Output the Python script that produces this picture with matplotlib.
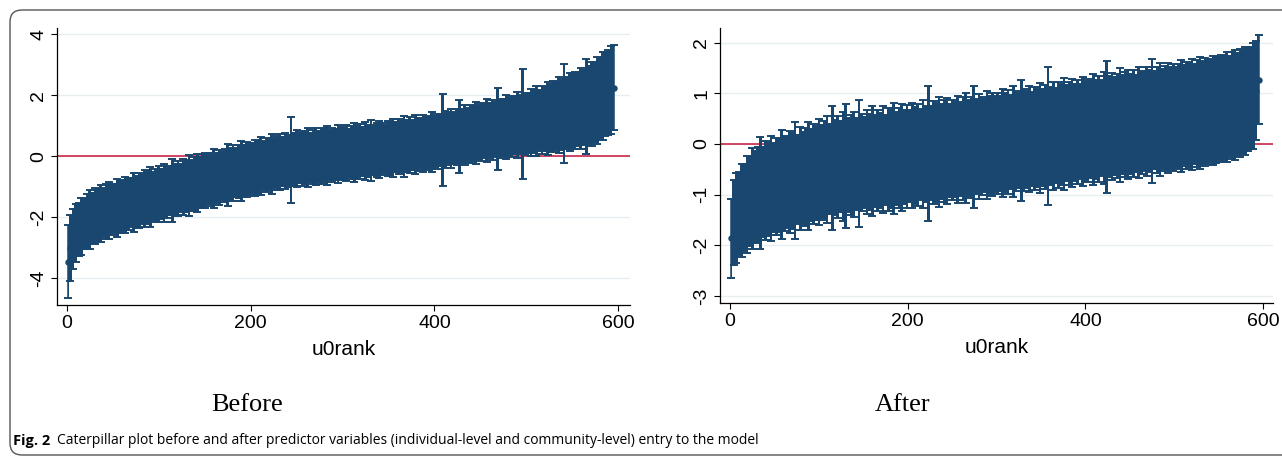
"""
Caterpillar plots of community-level residuals (u0) ranked by size,
before and after adding the predictor variables to the model.
"""

import matplotlib
matplotlib.use('Agg')
import matplotlib.pyplot as plt
from matplotlib.patches import FancyBboxPatch
from matplotlib.transforms import IdentityTransform

# =============================================================================
# DATA  (u0 estimate and half-width of its interval, every third u0rank)
# =============================================================================

RANKS = list(range(1, 596, 3))

BEFORE_U0 = [
    -3.45, -3.00, -2.72, -2.52, -2.40, -2.30, -2.21, -2.14, -2.07, -2.01, -1.96,
    -1.92, -1.88, -1.84, -1.81, -1.77, -1.74, -1.71, -1.68, -1.66, -1.63,
    -1.60, -1.57, -1.54, -1.51, -1.48, -1.45, -1.42, -1.39, -1.36, -1.33, -1.30, -1.28, -1.25,
    -1.22, -1.20, -1.17, -1.14, -1.12, -1.09, -1.06, -1.04, -1.01, -0.98, -0.96, -0.93,
    -0.90, -0.88, -0.85, -0.82,
    -0.80, -0.77, -0.75, -0.72, -0.70, -0.68, -0.65, -0.63, -0.60, -0.58, -0.55, -0.53,
    -0.50, -0.48, -0.46, -0.43, -0.41,
    -0.39, -0.37, -0.35, -0.33, -0.31, -0.29, -0.27, -0.25, -0.23, -0.21, -0.19, -0.17,
    -0.15, -0.14, -0.12, -0.10, -0.08,
    -0.07, -0.06, -0.05, -0.04, -0.03, -0.02, -0.01, 0.00, 0.01, 0.02, 0.03, 0.04,
    0.05, 0.06, 0.07, 0.08,
    0.09, 0.10, 0.11, 0.12, 0.13, 0.14, 0.15, 0.16, 0.17, 0.18, 0.19, 0.20,
    0.21, 0.22, 0.23, 0.24, 0.26,
    0.27, 0.28, 0.29, 0.31, 0.32, 0.33, 0.34, 0.36, 0.37, 0.38, 0.39, 0.41,
    0.42, 0.43, 0.44, 0.46, 0.47,
    0.49, 0.51, 0.53, 0.55, 0.57, 0.59, 0.61, 0.63, 0.65, 0.67, 0.69, 0.71,
    0.73, 0.75, 0.77, 0.79,
    0.80, 0.82, 0.84, 0.85, 0.87, 0.89, 0.90, 0.92, 0.94, 0.95, 0.97, 0.99,
    1.00, 1.02, 1.04, 1.06, 1.07,
    1.09, 1.11, 1.13, 1.16, 1.18, 1.20, 1.22, 1.25, 1.27, 1.30, 1.32, 1.35,
    1.37, 1.40, 1.42, 1.45, 1.48,
    1.51, 1.54, 1.57, 1.60, 1.64, 1.68, 1.72, 1.77, 1.83, 1.90, 1.97, 2.04,
    2.10, 2.17, 2.25,
]

BEFORE_HW = [
    1.20, 1.08, 0.98, 0.95, 0.86, 0.92, 0.83, 0.90, 0.96, 0.82, 0.91, 0.86,
    0.94, 0.81, 0.89, 0.93, 0.84, 0.80, 0.95, 0.87, 0.83,
    0.92, 0.86, 0.79, 0.97, 0.84, 0.90, 0.81, 0.94, 0.87, 0.99, 0.80, 0.88, 0.92,
    0.82, 0.95, 0.86, 0.79, 1.02, 0.84, 0.90, 0.80, 0.93, 0.86, 1.00, 0.81,
    0.89, 0.94, 0.83, 0.88,
    0.91, 0.80, 0.87, 0.96, 0.82, 0.90, 0.79, 0.86, 1.02, 0.84, 0.93, 0.81,
    0.88, 0.97, 0.83, 0.90, 0.85,
    0.80, 0.92, 0.86, 0.95, 0.81, 0.89, 0.84, 0.99, 0.82, 0.88, 0.93, 0.80,
    0.91, 0.85, 1.40, 0.87, 0.94,
    0.82, 0.90, 0.85, 0.97, 0.80, 0.88, 0.93, 0.83, 0.91, 0.86, 0.98, 0.81,
    0.89, 0.84, 0.95, 0.87,
    0.83, 0.92, 0.80, 0.88, 0.96, 0.84, 0.90, 0.81, 0.94, 0.86, 0.99, 0.82,
    0.89, 0.93, 0.85, 0.80, 0.91,
    0.87, 0.95, 0.82, 0.90, 0.84, 1.00, 0.86, 0.92, 0.81, 0.97, 0.88, 0.83,
    0.94, 0.89, 0.85, 0.98, 0.86,
    0.90, 0.84, 1.50, 0.92, 0.87, 0.96, 0.85, 0.93, 1.20, 0.88, 0.99, 0.86,
    0.94, 0.90, 1.02, 0.88,
    0.95, 0.89, 1.03, 0.91, 0.98, 0.90, 1.35, 0.96, 0.92, 1.05, 0.94, 1.00,
    0.93, 1.08, 0.97, 1.80, 1.02,
    0.98, 1.10, 1.03, 1.14, 1.01, 1.12, 1.06, 1.20, 1.09, 1.16, 1.12, 1.24,
    1.15, 1.62, 1.18, 1.28, 1.21,
    1.26, 1.20, 1.33, 1.24, 1.55, 1.28, 1.38, 1.30, 1.42, 1.33, 1.45, 1.36,
    1.40, 1.44, 1.40,
]

AFTER_U0 = [
    -1.86, -1.55, -1.46, -1.38, -1.31, -1.25, -1.19, -1.13, -1.08, -1.04, -1.00,
    -0.97, -0.94, -0.92, -0.90, -0.88, -0.86, -0.84, -0.82, -0.80, -0.78,
    -0.76, -0.75, -0.73, -0.72, -0.70, -0.68, -0.67, -0.65, -0.63, -0.61, -0.59, -0.57, -0.55,
    -0.54, -0.52, -0.50, -0.49, -0.48, -0.47, -0.46, -0.45, -0.44, -0.43, -0.42, -0.41,
    -0.40, -0.39, -0.38, -0.37,
    -0.36, -0.35, -0.35, -0.34, -0.33, -0.33, -0.32, -0.31, -0.31, -0.30, -0.29, -0.29,
    -0.28, -0.27, -0.27, -0.26, -0.25,
    -0.24, -0.23, -0.23, -0.22, -0.21, -0.20, -0.20, -0.19, -0.18, -0.17, -0.17, -0.16,
    -0.15, -0.14, -0.14, -0.13, -0.12,
    -0.11, -0.11, -0.10, -0.09, -0.08, -0.08, -0.07, -0.06, -0.05, -0.05, -0.04, -0.03,
    -0.02, -0.02, -0.01, 0.00,
    0.01, 0.01, 0.02, 0.03, 0.04, 0.04, 0.05, 0.06, 0.07, 0.07, 0.08, 0.09,
    0.10, 0.10, 0.11, 0.12, 0.12,
    0.13, 0.14, 0.15, 0.16, 0.16, 0.17, 0.18, 0.19, 0.20, 0.21, 0.21, 0.22,
    0.23, 0.24, 0.25, 0.25, 0.26,
    0.27, 0.28, 0.29, 0.29, 0.30, 0.31, 0.32, 0.33, 0.34, 0.34, 0.35, 0.36,
    0.37, 0.38, 0.38, 0.39,
    0.40, 0.41, 0.41, 0.42, 0.43, 0.44, 0.44, 0.45, 0.46, 0.47, 0.47, 0.48,
    0.49, 0.50, 0.51, 0.51, 0.52,
    0.53, 0.54, 0.55, 0.56, 0.56, 0.57, 0.58, 0.59, 0.60, 0.61, 0.62, 0.63,
    0.64, 0.65, 0.66, 0.67, 0.69,
    0.70, 0.71, 0.73, 0.74, 0.76, 0.77, 0.79, 0.81, 0.83, 0.85, 0.88, 0.91,
    0.95, 1.05, 1.27,
]

AFTER_HW = [
    0.78, 0.84, 0.88, 0.82, 0.92, 0.86, 0.96, 0.88, 1.00, 0.90, 0.95, 1.10,
    0.89, 0.98, 0.92, 1.03, 0.88, 0.96, 0.91, 1.08, 0.93,
    0.89, 1.01, 0.94, 1.15, 0.88, 1.02, 0.91, 0.97, 1.06, 0.90, 0.99, 0.93, 1.04,
    0.92, 0.98, 1.05, 0.89, 1.22, 0.94, 1.01, 0.90, 1.07, 1.22, 0.93, 0.99,
    1.04, 0.91, 1.25, 0.96,
    0.90, 1.03, 0.95, 1.08, 0.91, 1.00, 0.94, 1.06, 0.89, 1.02, 0.97, 1.10,
    0.92, 0.99, 1.05, 0.93, 1.01,
    0.91, 1.04, 0.96, 1.00, 0.90, 1.07, 0.95, 1.33, 0.92, 1.02, 0.98, 1.09,
    0.93, 1.01, 1.05, 0.91, 0.99,
    0.94, 1.06, 0.92, 1.01, 1.08, 0.95, 1.00, 1.20, 0.93, 1.04, 0.97, 0.91,
    1.07, 0.96, 1.02, 0.94,
    1.00, 0.93, 1.06, 0.97, 1.03, 0.92, 1.09, 0.98, 0.94, 1.20, 1.01, 0.95,
    1.05, 0.93, 1.02, 0.97, 1.08,
    0.95, 1.02, 1.36, 0.96, 1.06, 0.93, 1.04, 0.99, 1.10, 0.95, 1.01, 1.07,
    0.96, 1.03, 0.94, 1.08, 0.99,
    1.02, 0.96, 1.09, 0.98, 1.05, 0.95, 1.11, 1.30, 1.00, 1.06, 0.97, 1.03,
    1.12, 0.98, 1.04, 1.08,
    0.99, 1.06, 0.96, 1.10, 1.02, 0.98, 1.07, 1.01, 1.22, 0.97, 1.05, 1.11,
    0.99, 1.03, 1.08, 1.00, 1.06,
    0.98, 1.04, 1.10, 1.00, 1.06, 1.02, 1.09, 0.99, 1.05, 1.11, 1.01, 1.07,
    1.03, 1.00, 1.08, 1.04, 1.01,
    1.06, 1.02, 1.09, 1.00, 1.05, 1.08, 1.01, 1.07, 1.03, 1.06, 1.02, 1.00,
    1.04, 0.98, 0.88,
]

X_TICKS = [0, 200, 400, 600]
BEFORE_YTICKS = [-4, -2, 0, 2, 4]
AFTER_YTICKS = [-3, -2, -1, 0, 1, 2]

NAVY = '#1a476f'
RED = '#c8143c'
GRID = '#e6eef0'

# =============================================================================
# FIGURE
# =============================================================================

W, H = 1282, 459
fig = plt.figure(figsize=(W / 100, H / 100), dpi=100)
plt.rcParams['font.family'] = ['Liberation Sans', 'DejaVu Sans']


def px_axes(x0, y0, x1, y1):
    """Axes from pixel box (top-left origin)."""
    return fig.add_axes([x0 / W, 1 - y1 / H, (x1 - x0) / W, (y1 - y0) / H])


def caterpillar(ax, u0, hw, xlim, ylim, yticks):
    lo = [m - h for m, h in zip(u0, hw)]
    hi = [m + h for m, h in zip(u0, hw)]
    ax.axhline(0, color=RED, lw=1.1, zorder=1)
    # the overlapping intervals merge into one solid band
    ax.fill_between(RANKS, lo, hi, step='mid', color=NAVY, lw=0, zorder=2)
    ax.errorbar(RANKS, u0, yerr=hw, fmt='o', color=NAVY, ms=3.6,
                elinewidth=1.1, capsize=3.0, capthick=1.4, zorder=3)
    ax.set_xlim(*xlim)
    ax.set_ylim(*ylim)
    ax.set_xticks(X_TICKS)
    ax.set_yticks(yticks)
    ax.set_yticklabels([str(t) for t in yticks], rotation=90, va='center')
    ax.grid(axis='y', color=GRID, lw=1.0, zorder=0)
    ax.set_axisbelow(True)
    for side in ('top', 'right'):
        ax.spines[side].set_visible(False)
    for side in ('left', 'bottom'):
        ax.spines[side].set_linewidth(0.9)
    ax.tick_params(length=4, width=0.8, labelsize=14, pad=3)
    ax.set_xlabel('u0rank', fontsize=15, labelpad=6)


ax1 = px_axes(57, 28, 630, 305)
caterpillar(ax1, BEFORE_U0, BEFORE_HW, (-10.5, 612.7), (-4.875, 4.207),
            BEFORE_YTICKS)

ax2 = px_axes(720, 28, 1273, 303)
caterpillar(ax2, AFTER_U0, AFTER_HW, (-11.25, 611), (-3.138, 2.289),
            AFTER_YTICKS)

# panel names and caption
fig.text(247 / W, 1 - 405 / H, 'Before', family='Liberation Serif',
         fontsize=19, ha='center', va='center')
fig.text(903 / W, 1 - 405 / H, 'After', family='Liberation Serif',
         fontsize=19, ha='center', va='center')

CAP_FONT = ['Open Sans', 'DejaVu Sans']
fig.text(13 / W, 1 - 441 / H, 'Fig. 2', family=CAP_FONT, fontweight='bold',
         fontsize=10.5, ha='left', va='center')
fig.text(57 / W, 1 - 441 / H,
         'Caterpillar plot before and after predictor variables '
         '(individual-level and community-level) entry to the model',
         family=CAP_FONT, fontsize=10, ha='left', va='center')

# rounded frame around the whole figure (runs off the right edge)
frame = FancyBboxPatch((10, H - 455), 1300, 445,
                       boxstyle='round,pad=0,rounding_size=12',
                       transform=IdentityTransform(), fill=False,
                       edgecolor='#555555', lw=1.0)
fig.patches.append(frame)

fig.savefig('out.png', dpi=100)
